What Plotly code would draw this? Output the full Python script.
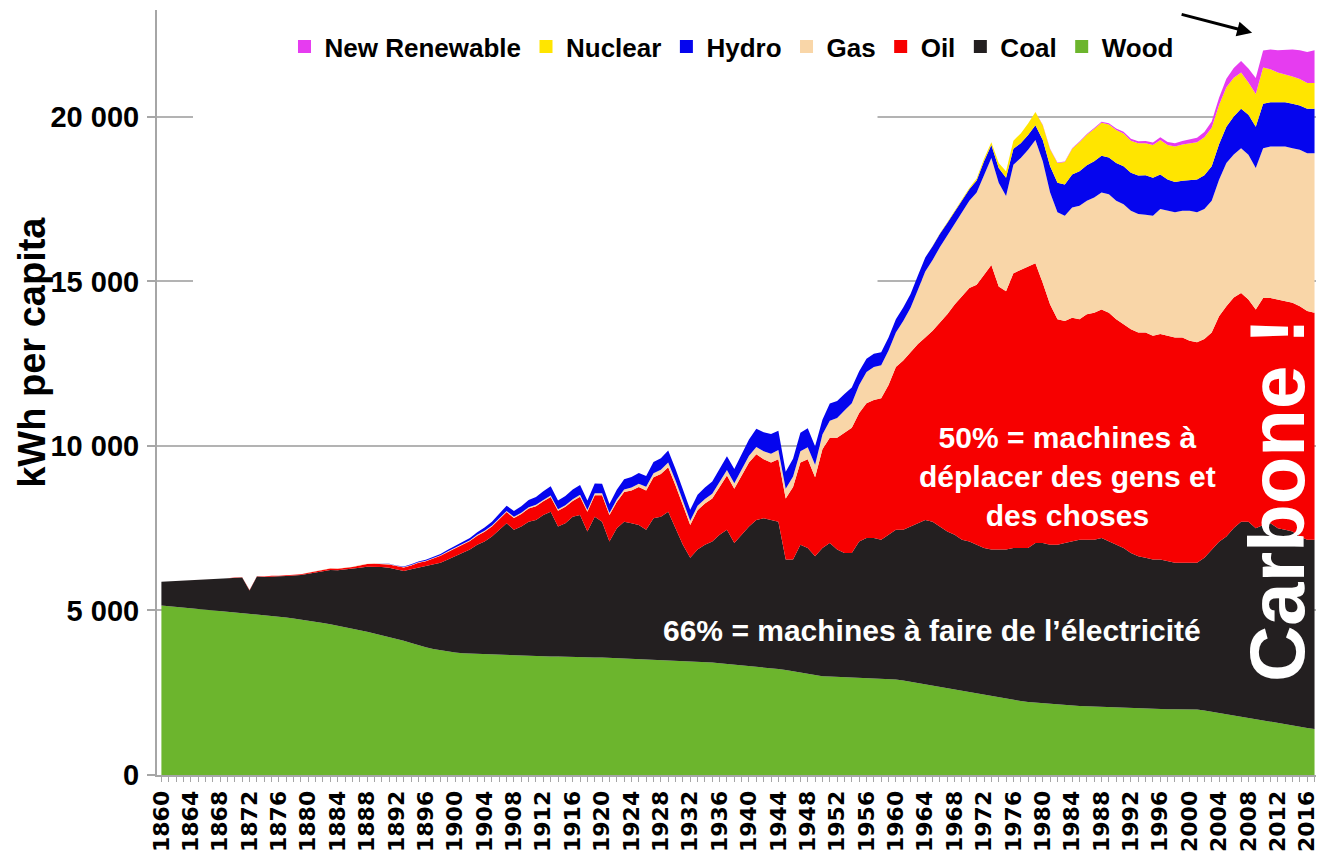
import plotly.graph_objects as go

years = list(range(1860, 2018))

wood = [
    5150, 5130, 5110, 5090, 5070, 5050, 5030, 5010, 4990, 4970,
    4950, 4930, 4910, 4890, 4870, 4850, 4820, 4790, 4760, 4730,
    4700, 4660, 4620, 4580, 4540, 4500, 4450, 4400, 4350, 4300,
    4250, 4200, 4150, 4080, 4010, 3940, 3880, 3830, 3790, 3750,
    3720, 3700, 3690, 3680, 3670, 3660, 3650, 3640, 3630, 3620,
    3610, 3600, 3600, 3600, 3600, 3590, 3590, 3580, 3580, 3570,
    3570, 3560, 3560, 3550, 3540, 3530, 3520, 3510, 3500, 3490,
    3480, 3470, 3460, 3450, 3440, 3420, 3400, 3380, 3360, 3340,
    3320, 3300, 3280, 3250, 3220, 3190, 3150, 3110, 3070, 3030,
    3000, 2990, 2980, 2970, 2960, 2950, 2950, 2940, 2930, 2920,
    2900, 2870, 2830, 2790, 2750, 2710, 2670, 2630, 2590, 2550,
    2510, 2470, 2430, 2390, 2350, 2310, 2280, 2250, 2220, 2200,
    2180, 2160, 2140, 2120, 2110, 2100, 2090, 2080, 2070, 2060,
    2050, 2040, 2030, 2020, 2010, 2000, 2000, 2000, 2000, 2000,
    2000, 1990, 1960, 1930, 1890, 1850, 1810, 1770, 1730, 1690,
    1650, 1610, 1570, 1530, 1490, 1460, 1430, 1400,
]

coal = [
    720, 750, 780, 810, 850, 880, 920, 950, 970, 1010,
    1040, 1070, 700, 1140, 1150, 1190, 1220, 1260, 1300, 1350,
    1420, 1500, 1580, 1650, 1680, 1740, 1810, 1900, 1980, 2030,
    2070, 2100, 2100, 2120, 2240, 2360, 2450, 2550, 2660, 2800,
    2930, 3050, 3160, 3320, 3430, 3590, 3800, 4010, 3820, 3930,
    4090, 4150, 4300, 4400, 3950, 4060, 4260, 4320, 3820, 4280,
    4130, 3540, 3940, 4150, 4110, 4070, 3930, 4290, 4350, 4510,
    4020, 3530, 3140, 3400, 3560, 3680, 3900, 4070, 3690, 3960,
    4230, 4450, 4520, 4500, 4480, 3360, 3400, 3890, 3830, 3620,
    3900, 4060, 3870, 3780, 3790, 4150, 4250, 4260, 4220, 4380,
    4550, 4580, 4720, 4860, 5000, 4990, 4880, 4770, 4710, 4600,
    4590, 4530, 4470, 4460, 4500, 4540, 4620, 4650, 4680, 4850,
    4870, 4840, 4860, 4930, 4990, 5050, 5060, 5070, 5130, 5040,
    4950, 4860, 4720, 4630, 4590, 4550, 4550, 4500, 4450, 4450,
    4450, 4460, 4640, 4920, 5200, 5400, 5700, 5930, 5970, 5810,
    5950, 6040, 5930, 5920, 5910, 5790, 5720, 5750,
]

oil = [
    0, 0, 0, 0, 0, 0, 0, 0, 0, 0,
    10, 10, 10, 10, 10, 15, 15, 20, 20, 25,
    30, 35, 40, 45, 50, 55, 60, 70, 80, 90,
    90, 100, 100, 110, 120, 150, 170, 190, 210, 230,
    240, 250, 260, 270, 290, 300, 320, 340, 360, 380,
    400, 420, 420, 450, 480, 500, 480, 560, 600, 650,
    800, 800, 800, 900, 1000, 1150, 1200, 1250, 1300, 1350,
    1300, 1200, 1000, 1200, 1250, 1300, 1450, 1650, 1650, 1800,
    1950, 2000, 1800, 1750, 1900, 1850, 2200, 2500, 2700, 2400,
    3000, 3200, 3400, 3650, 3800, 3900, 4100, 4200, 4300, 4550,
    4950, 5150, 5300, 5450, 5550, 5800, 6200, 6600, 7000, 7400,
    7700, 7900, 8300, 8650, 8000, 7850, 8350, 8450, 8550, 8500,
    7900, 7300, 6850, 6750, 6800, 6700, 6850, 6900, 6950, 6950,
    6850, 6800, 6800, 6800, 6850, 6800, 6850, 6850, 6850, 6850,
    6750, 6700, 6650, 6600, 6850, 7000, 7000, 6950, 6750, 6650,
    6900, 6850, 6950, 6950, 6950, 7000, 6950, 6900,
]

gas = [0] * 20 + [
    5, 5, 5, 5, 5, 5, 10, 10, 10, 10,
    10, 10, 10, 10, 15, 15, 15, 20, 20, 20,
    20, 25, 25, 30, 30, 30, 35, 35, 35, 40,
    40, 40, 40, 45, 45, 50, 50, 55, 55, 60,
    60, 60, 70, 80, 90, 100, 110, 120, 130, 150,
    150, 140, 130, 130, 140, 150, 160, 170, 170, 180,
    200, 220, 240, 260, 280, 300, 320, 340, 360, 380,
    450, 520, 600, 680, 750, 850, 950, 1000, 1000, 1050,
    1050, 1200, 1350, 1650, 2000, 2150, 2300, 2400, 2450, 2550,
    2650, 2800, 3050, 3250, 3150, 2900, 3300, 3400, 3550, 3750,
    3700, 3400, 3250, 3200, 3350, 3450, 3450, 3500, 3550, 3600,
    3600, 3650, 3600, 3600, 3580, 3650, 3800, 3800, 3800, 3850,
    3950, 3950, 3950, 4000, 4150, 4350, 4350, 4400, 4400, 4300,
    4550, 4600, 4650, 4700, 4700, 4750, 4800, 4850,
]

hydro = [0] * 30 + [
    5, 10, 10, 15, 20, 25, 30, 35, 40, 45,
    50, 60, 70, 80, 100, 120, 140, 160, 180, 200,
    220, 240, 260, 280, 270, 280, 300, 300, 290, 300,
    290, 280, 300, 310, 320, 330, 330, 340, 350, 360,
    350, 340, 330, 340, 350, 370, 390, 420, 430, 460,
    500, 550, 580, 600, 580, 520, 540, 560, 580, 560,
    450, 520, 520, 500, 480, 420, 400, 400, 400, 400,
    400, 410, 420, 430, 430, 420, 400, 380, 360, 350,
    350, 370, 400, 400, 450, 550, 480, 450, 450, 450,
    650, 800, 900, 950, 1000, 1050, 1080, 1100, 1120, 1120,
    1150, 1150, 1150, 1170, 1200, 1150, 1050, 950, 920, 910,
    930, 1000, 1030, 1050, 1080, 1100, 1150, 1200, 1220, 1250,
    1350, 1350, 1350, 1350, 1350, 1350, 1350, 1350,
]

nuclear = [0] * 105 + [
    10, 15, 20, 25, 30,
    40, 60, 80, 80, 150, 200, 250, 300, 350, 400,
    450, 520, 600, 680, 780, 880, 930, 980, 1000, 1000,
    1000, 1000, 980, 980, 970, 1000, 1050, 1050, 1080, 1100,
    1120, 1130, 1150, 1170, 1190, 1200, 1180, 1100, 980, 1000,
    1100, 1000, 900, 850, 830, 800, 780, 780,
]

renewable = [0] * 120 + [
    10, 10, 15, 15, 20, 20, 25, 30, 35, 40,
    45, 50, 55, 60, 65, 70, 80, 90, 100, 110,
    120, 140, 160, 190, 220, 260, 300, 350, 420, 480,
    520, 600, 680, 750, 820, 880, 940, 1000,
]

series = [
    ("Wood", wood, "#6cb52d"),
    ("Coal", coal, "#231f20"),
    ("Oil", oil, "#f70000"),
    ("Gas", gas, "#f9d6a8"),
    ("Hydro", hydro, "#0505ee"),
    ("Nuclear", nuclear, "#ffe500"),
    ("New Renewable", renewable, "#e63cf0"),
]
for _, vals, _ in series:
    assert len(vals) == len(years)

year_ticks = list(range(1860, 2017, 4))
y_ticks = [0, 5000, 10000, 15000, 20000]
y_tick_text = ["0", "5 000", "10 000", "15 000", "20 000"]

fig = go.Figure()
for name, vals, color in series:
    fig.add_trace(go.Scatter(
        x=years, y=vals, name=name, stackgroup="one", mode="lines",
        line=dict(width=0, color=color), fillcolor=color,
        showlegend=False, hoverinfo="x+y+name",
    ))

# legend entries (square markers), top-most source first
for name, vals, color in reversed(series):
    fig.add_trace(go.Scatter(
        x=[None], y=[None], mode="markers", name=name,
        marker=dict(symbol="square", size=13, color=color),
    ))

bold_font = "Liberation Sans, Arial, sans-serif"

fig.update_layout(
    width=1325, height=860,
    # the page body adds an 8 px offset; margins compensate for it
    margin=dict(l=149, r=17, t=2, b=93),
    paper_bgcolor="white", plot_bgcolor="white",
    legend=dict(
        orientation="h", traceorder="normal",
        x=0.110, xanchor="left", y=0.952, yanchor="middle",
        font=dict(family=bold_font, size=26, color="black", weight="bold"),
        itemwidth=30, bgcolor="rgba(0,0,0,0)", tracegroupgap=0,
    ),
    xaxis=dict(
        range=[1859.4, 2017.2], tickvals=year_ticks, tickangle=-90,
        tickfont=dict(family="DejaVu Sans", size=22, color="black", weight="bold"),
        ticks="outside", ticklen=5, tickcolor="#a6a6a6", tickwidth=1,
        minor=dict(dtick=1, tick0=1860, ticks="outside", ticklen=5, tickcolor="#a6a6a6"),
        showgrid=False, zeroline=False, automargin=False,
        showline=True, linecolor="#a6a6a6", linewidth=2,
    ),
    yaxis=dict(
        range=[0, 23250], tickvals=y_ticks, ticktext=y_tick_text,
        tickfont=dict(family=bold_font, size=29, color="black", weight="bold"),
        ticks="outside", ticklen=8, tickcolor="#a6a6a6", tickwidth=2,
        ticklabelstandoff=2,
        showgrid=True, gridcolor="#b3b3b3", gridwidth=2, zeroline=False,
        showline=True, linecolor="#a6a6a6", linewidth=2, automargin=False,
    ),
    shapes=[
        dict(type="rect", xref="x", yref="y", x0=1864.3, x1=1957.5,
             y0=11500, y1=23250, fillcolor="white", line=dict(width=0),
             layer="between"),
    ],
    annotations=[
        dict(x=-0.108, y=0.553, xref="paper", yref="paper", showarrow=False,
             xanchor="center", yanchor="middle",
             text="kWh per capita", textangle=-90,
             font=dict(family=bold_font, size=38, color="black", weight="bold")),
        dict(x=1983.3, y=9060, xref="x", yref="y", showarrow=False,
             text="50% = machines à<br>déplacer des gens et<br>des choses",
             font=dict(family=bold_font, size=30, color="white", weight="bold"),
             align="center"),
        dict(x=1964.9, y=4380, xref="x", yref="y", showarrow=False,
             text="66% = machines à faire de l’électricité",
             font=dict(family=bold_font, size=30, color="white", weight="bold")),
        dict(x=2011.9, y=8360, xref="x", yref="y", showarrow=False,
             text="Carbone !", textangle=-90,
             font=dict(family=bold_font, size=78, color="white", weight="bold")),
        dict(x=2008.5, y=22560, ax=1998.7, ay=23130, xref="x", yref="y",
             axref="x", ayref="y", showarrow=True, text="",
             arrowhead=2, arrowsize=1, arrowwidth=3, arrowcolor="black"),
    ],
)

fig.write_html("out.html")
